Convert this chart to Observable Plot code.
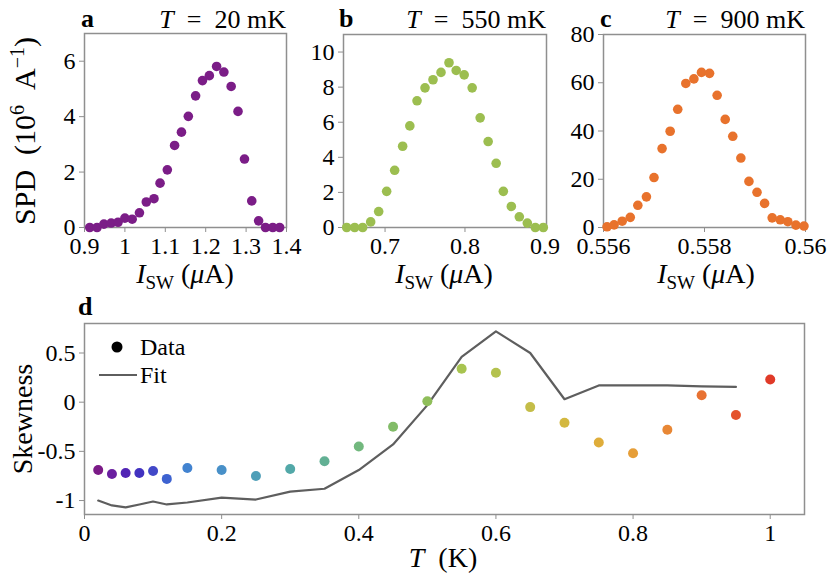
<!DOCTYPE html>
<html><head><meta charset="utf-8">
<script src="https://cdn.jsdelivr.net/npm/d3@7"></script>
<script src="https://cdn.jsdelivr.net/npm/@observablehq/plot@0.6"></script>
<style>
body{margin:0;background:#fff;}
#root{position:relative;width:830px;height:586px;font-family:"Liberation Serif",serif;}
#root svg{position:absolute;left:0;top:0;overflow:visible;}
</style></head><body><div id="root"></div>
<script>
// Panel a: T = 20 mK
const aCurrent = [0.913,0.931,0.948,0.966,0.983,1.000,1.018,1.036,1.053,1.072,1.087,1.105,1.123,1.140,1.157,1.175,1.192,1.209,1.227,1.245,1.263,1.280,1.296,1.314,1.331,1.348,1.366,1.383];
const aSPD = [0,0,0.12,0.16,0.19,0.34,0.30,0.53,0.92,1.04,1.60,2.08,2.96,3.44,4.01,4.75,5.30,5.48,5.81,5.61,5.09,4.19,2.47,0.96,0.24,0,0,0];
const aXTicks = [0.9,1,1.1,1.2,1.3,1.4];
const aYTicks = [0,2,4,6];
// Panel b: T = 550 mK
const bCurrent = [0.652,0.662,0.672,0.682,0.692,0.702,0.712,0.722,0.731,0.740,0.750,0.760,0.770,0.780,0.789,0.799,0.809,0.819,0.829,0.839,0.848,0.858,0.868,0.878,0.888,0.898];
const bSPD = [0,0,0,0.32,0.91,2.06,3.26,4.63,5.79,7.22,7.96,8.42,8.84,9.39,8.95,8.70,7.96,6.25,4.90,3.66,2.06,1.20,0.61,0.25,0,0];
const bXTicks = [0.7,0.8,0.9];
const bYTicks = [0,2,4,6,8,10];
// Panel c: T = 900 mK
const cCurrent = [0.55607,0.55621,0.55637,0.55653,0.55668,0.55685,0.55700,0.55716,0.55732,0.55747,0.55763,0.55779,0.55794,0.55810,0.55825,0.55841,0.55856,0.55872,0.55888,0.55904,0.55919,0.55934,0.55950,0.55965,0.55981,0.55997];
const cSPD = [0.3,1.1,2.6,4.2,9.2,12.7,20.7,32.7,39.9,49.0,59.7,61.6,64.3,63.9,54.8,44.8,37.8,28.8,19.1,14.6,10.0,4.0,3.2,2.4,1.0,0.6];
const cXTicks = [0.556,0.558,0.56];
const cYTicks = [0,20,40,60,80];
// Panel d: skewness vs T
const dT = [0.02,0.04,0.06,0.08,0.10,0.12,0.15,0.20,0.25,0.30,0.35,0.40,0.45,0.50,0.55,0.60,0.65,0.70,0.75,0.80,0.85,0.90,0.95,1.00];
const dSkew = [-0.69,-0.73,-0.72,-0.72,-0.70,-0.78,-0.67,-0.69,-0.75,-0.68,-0.60,-0.45,-0.25,0.01,0.34,0.30,-0.05,-0.21,-0.41,-0.52,-0.28,0.07,-0.13,0.23];
const fitT = [0.02,0.04,0.06,0.08,0.10,0.12,0.15,0.20,0.25,0.30,0.35,0.40,0.45,0.50,0.55,0.60,0.65,0.70,0.75,0.80,0.85,0.90,0.95];
const fitSkew = [-1.00,-1.05,-1.07,-1.04,-1.01,-1.04,-1.02,-0.97,-0.99,-0.91,-0.88,-0.69,-0.43,-0.03,0.46,0.72,0.50,0.03,0.17,0.17,0.17,0.16,0.155];
const dXTicks = [0,0.2,0.4,0.6,0.8,1];
const dYTicks = [-1,-0.5,0,0.5];

const FONT = "Liberation Serif";
const FRAME = "#8f8f8f";
const root = document.getElementById("root");
const fmt = d => String(d);
const plotStyle = {background: "transparent", fontFamily: FONT, fontSize: "24px", color: "black", overflow: "visible"};

function panel(xs, ys, xDom, yDom, xTicks, yTicks, m, color) {
  const data = xs.map((x, i) => ({x, y: ys[i]}));
  return Plot.plot({
    width: 830, height: 586,
    marginLeft: m[0], marginRight: m[1], marginTop: m[2], marginBottom: m[3],
    style: plotStyle,
    x: {domain: xDom}, y: {domain: yDom},
    marks: [
      Plot.frame({stroke: FRAME, strokeWidth: 1.5}),
      Plot.axisX(xTicks, {tickSize: 5, tickPadding: 4, stroke: FRAME, fill: "black", tickFormat: fmt, label: null}),
      Plot.axisY(yTicks, {tickSize: 5, tickPadding: 4, stroke: FRAME, fill: "black", tickFormat: fmt, label: null}),
      Plot.dot(data, {x: "x", y: "y", r: 4.8, fill: color, stroke: "none"})
    ]
  });
}

root.append(panel(aCurrent, aSPD, [0.9, 1.4], [0, 7], aXTicks, aYTicks, [84, 544, 33, 359], "#7b1d87"));
root.append(panel(bCurrent, bSPD, [0.648, 0.902], [0, 11], bXTicks, bYTicks, [343, 284, 34, 359], "#9cbe50"));
root.append(panel(cCurrent, cSPD, [0.556, 0.56], [0, 80], cXTicks, cYTicks, [603, 25, 34, 359], "#e8722c"));

const dData = dT.map((T, i) => ({T, s: dSkew[i]}));
const fData = fitT.map((T, i) => ({T, s: fitSkew[i]}));
root.append(Plot.plot({
  width: 830, height: 586,
  marginLeft: 84, marginRight: 26, marginTop: 323, marginBottom: 72,
  style: plotStyle,
  x: {domain: [0, 1.05]}, y: {domain: [-1.142, 0.8]},
  color: {type: "linear",
    domain: [0.02,0.04,0.06,0.08,0.10,0.12,0.15,0.20,0.25,0.30,0.35,0.40,0.45,0.50,0.55,0.60,0.65,0.70,0.75,0.80,0.85,0.90,0.95,1.00],
    range: ["#7b1a87","#6a1fa0","#5124b5","#4232c0","#4248c8","#3d62d0","#4283d0","#4890c8","#4f9fb8","#52a8a8","#62b094","#72b87e","#82bc68","#8fbe5a","#a8c450","#b4c24e","#c4bd48","#d3b840","#dfad3a","#e69e38","#e88735","#e87232","#e4532c","#e03a28"]},
  marks: [
    Plot.frame({stroke: FRAME, strokeWidth: 1.5}),
    Plot.axisX(dXTicks, {tickSize: 5, tickPadding: 4, stroke: FRAME, fill: "black", tickFormat: fmt, label: null}),
    Plot.axisY(dYTicks, {tickSize: 5, tickPadding: 4, stroke: FRAME, fill: "black", tickFormat: fmt, label: null}),
    Plot.line(fData, {x: "T", y: "s", stroke: "#5e5e5e", strokeWidth: 2.2}),
    Plot.dot(dData, {x: "T", y: "s", r: 5, fill: "T", stroke: "none"})
  ]
}));

// Overlay for panel letters, titles, axis labels and legend
const svg = d3.select(root).append("svg")
  .attr("width", 830).attr("height", 586)
  .style("font-family", FONT);

function txt(x, y, parts, anchor = "start", rotate = 0, size = 28) {
  const t = svg.append("text")
    .attr("text-anchor", anchor)
    .attr("font-size", size)
    .attr("xml:space", "preserve")
    .attr("transform", `translate(${x},${y})` + (rotate ? ` rotate(${rotate})` : ""));
  for (const p of parts) {
    const s = t.append("tspan").text(p.t);
    if (p.i) s.attr("font-style", "italic");
    if (p.b) s.attr("font-weight", "bold");
    if (p.s) s.attr("font-size", p.s);
    if (p.dy) s.attr("dy", p.dy);
  }
  return t;
}

const letters = [["a", 81, 27], ["b", 339, 27], ["c", 600, 27], ["d", 78, 315]];
for (const [l, x, y] of letters) txt(x, y, [{t: l, b: true}], "start", 0, 26);

const titles = [["20", 286], ["550", 546], ["900", 805]];
for (const [v, x] of titles) txt(x, 28, [{t: "T", i: true}, {t: "\u2002=\u2002" + v + " mK"}], "end", 0, 26);

const iswLabel = [{t: "I", i: true}, {t: "SW", s: 19, dy: 6}, {t: " (", dy: -6}, {t: "μ", i: true}, {t: "A)"}];
for (const x of [185, 444, 706]) txt(x, 283, iswLabel, "middle");

txt(35, 131, [{t: "SPD\u2002(10"}, {t: "6", s: 20, dy: -11}, {t: "\u2002A", dy: 11}, {t: "−1", s: 20, dy: -11}, {t: ")", dy: 11}], "middle", -90, 30);
txt(32, 419, [{t: "Skewness"}], "middle", -90, 28);
txt(443, 567, [{t: "T", i: true}, {t: "\u2002(K)"}], "middle", 0, 28);

// legend
svg.append("circle").attr("cx", 117).attr("cy", 347).attr("r", 5.5).attr("fill", "black");
svg.append("line").attr("x1", 99).attr("x2", 137).attr("y1", 375).attr("y2", 375).attr("stroke", "#5e5e5e").attr("stroke-width", 2.2);
txt(140, 355, [{t: "Data"}], "start", 0, 24);
txt(140, 383, [{t: "Fit"}], "start", 0, 24);
</script></body></html>
